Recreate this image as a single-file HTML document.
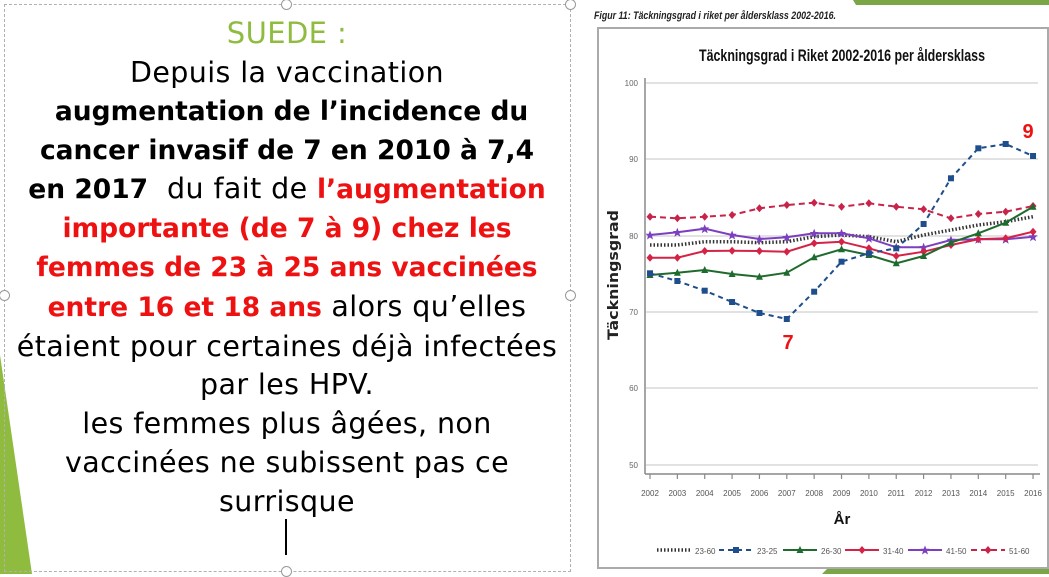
<!DOCTYPE html>
<html><head><meta charset="utf-8"><style>
html,body{margin:0;padding:0;background:#fff;}
body{width:1049px;height:574px;position:relative;overflow:hidden;font-family:"DejaVu Sans","Liberation Sans",sans-serif;}
.tb{position:absolute;left:4px;top:4px;width:565px;height:566px;border:1px dashed #b0b0b0;}
.txt{position:absolute;left:4px;top:13px;width:566px;text-align:center;font-size:28.5px;line-height:38.8px;color:#000;letter-spacing:0.4px;white-space:nowrap;}
.b{font-weight:bold;font-size:26.5px;letter-spacing:0;}
.r{color:#ee1111;font-weight:bold;font-size:26.5px;letter-spacing:0;}
.g{color:#8fbc3f;}
.h{position:absolute;width:9px;height:9px;border:1px solid #999;border-radius:50%;background:#fff;}
</style></head><body>
<svg width="1049" height="574" style="position:absolute;left:0;top:0">
<polygon points="0,355 32,574 0,574" fill="#8fbc3f"/>
<polygon points="853,0 1049,0 1049,5 856,5" fill="#7aa645"/>
<polygon points="830,566 1049,566 1049,574 822,574" fill="#7aa645"/>
</svg>
<div class="tb"></div>
<div class="h" style="left:281px;top:-1px"></div>
<div class="h" style="left:-1px;top:290px"></div>
<div class="h" style="left:565px;top:-1px"></div>
<div class="h" style="left:565px;top:290px"></div>
<div class="h" style="left:281px;top:566px"></div>
<div class="txt">
<div class="g" style="font-size:29px;line-height:41px">SUEDE :</div>
<div>Depuis la vaccination</div>
<div class="b">&nbsp;augmentation de l’incidence du</div>
<div class="b">cancer invasif de 7 en 2010 à 7,4</div>
<div><span class="b">en 2017</span>&nbsp; du fait de <span class="r">l’augmentation</span></div>
<div class="r">importante (de 7 à 9) chez les</div>
<div class="r">femmes de 23 à 25 ans vaccinées</div>
<div><span class="r">entre 16 et 18 ans</span> alors qu’elles</div>
<div>étaient pour certaines déjà infectées</div>
<div>par les HPV.</div>
<div>les femmes plus âgées, non</div>
<div>vaccinées ne subissent pas ce</div>
<div>surrisque</div>
</div>
<div style="position:absolute;left:285px;top:519px;width:2px;height:36px;background:#000"></div>

<svg width="1049" height="574" style="position:absolute;left:0;top:0" font-family="Liberation Sans, sans-serif">
<text x="594" y="19" font-size="11" font-weight="bold" font-style="italic" fill="#222" textLength="242" lengthAdjust="spacingAndGlyphs">Figur 11: Täckningsgrad i riket per åldersklass 2002-2016.</text>
<rect x="598" y="28" width="450" height="540" fill="#fff" stroke="#aaa" stroke-width="2"/>
<text x="842" y="61" font-size="17" font-weight="bold" text-anchor="middle" fill="#111" textLength="286" lengthAdjust="spacingAndGlyphs">Täckningsgrad i Riket 2002-2016 per åldersklass</text>
<g stroke="#e2e2e2" stroke-width="2">
<line x1="646" x2="1038" y1="83" y2="83"/><line x1="646" x2="1038" y1="159" y2="159"/><line x1="646" x2="1038" y1="236" y2="236"/><line x1="646" x2="1038" y1="312" y2="312"/><line x1="646" x2="1038" y1="388" y2="388"/><line x1="646" x2="1038" y1="465" y2="465"/>
</g>
<g stroke="#888" stroke-width="1.5"><line x1="645" y1="78" x2="645" y2="474"/><line x1="645" y1="474" x2="1040" y2="474"/></g>
<g font-size="8" fill="#666" text-anchor="end">
<text x="638" y="86">100</text><text x="638" y="162">90</text><text x="638" y="239">80</text><text x="638" y="315">70</text><text x="638" y="391">60</text><text x="638" y="468">50</text>
</g>
<g font-size="8" fill="#555" text-anchor="middle" id="xl"></g>
<text x="618" y="275" font-size="14" font-weight="bold" fill="#222" text-anchor="middle" transform="rotate(-90 618 275)" font-family="DejaVu Sans, sans-serif" textLength="130" lengthAdjust="spacingAndGlyphs">Täckningsgrad</text>
<text x="842" y="524" font-size="15" font-weight="bold" fill="#111" text-anchor="middle">År</text>
<g id="series"></g>
<g id="leg" font-size="8" fill="#555"></g>
<text x="1028" y="138" font-size="20" font-weight="bold" fill="#ee1111" text-anchor="middle">9</text>
<text x="788" y="349" font-size="20" font-weight="bold" fill="#ee1111" text-anchor="middle">7</text>
</svg>
<script>
var NS="http://www.w3.org/2000/svg";
function el(t,a,p){var e=document.createElementNS(NS,t);for(var k in a)e.setAttribute(k,a[k]);p.appendChild(e);return e;}
var xs=[];for(var i=0;i<15;i++)xs.push(650+i*27.36);
var xl=document.getElementById('xl');
for(var i=0;i<15;i++){var t=el('text',{x:xs[i],y:496},xl);t.textContent=2002+i;el('line',{x1:xs[i],x2:xs[i],y1:474,y2:479,stroke:'#888','stroke-width':1.2},xl);}
var S=[
{c:'#333',d:'1.5,2',w:3.5,m:null,y:[245,245,241.7,241.7,242.7,241.7,236.7,235,236.7,241.7,235,230,225,221.7,216.7],n:'23-60'},
{c:'#c8244a',d:'6,4',w:2,m:'d',y:[216.7,218.3,216.7,215,208.3,205,202.7,206.7,203.3,206.7,209.3,218.3,214,211.7,206],n:'51-60'},
{c:'#7b3fbf',d:null,w:2,m:'s',y:[235,232.3,228.7,235,239,237.3,233.3,233.3,238.3,247.3,247.3,240,239.3,239.3,236.7],n:'41-50'},
{c:'#d42346',d:null,w:2,m:'d',y:[257.7,257.7,251,250.7,251,251.7,243.3,241.7,248.3,256,251.7,245,239.3,238.3,231.7],n:'31-40'},
{c:'#1f6b2e',d:null,w:2,m:'t',y:[275,272.7,270,274,276.7,272.7,257.3,249.3,255,263.3,256,242.7,233.3,222.7,206.7],n:'26-30'},
{c:'#1f4e8c',d:'5,4',w:2,m:'q',y:[273.3,281,290.7,302,313,319,291.7,261.7,253.3,248.3,224,178.3,148.3,144,156],n:'23-25'}
];
var g=document.getElementById('series');
function mk(m,x,y,c,p){
 if(m=='d')el('polygon',{points:(x)+','+(y-4)+' '+(x+3.5)+','+y+' '+x+','+(y+4)+' '+(x-3.5)+','+y,fill:c},p);
 else if(m=='q')el('rect',{x:x-3,y:y-3,width:6,height:6,fill:c},p);
 else if(m=='t')el('polygon',{points:(x)+','+(y-4)+' '+(x+3.5)+','+(y+3)+' '+(x-3.5)+','+(y+3),fill:c},p);
 else if(m=='s')el('polygon',{points:(x)+','+(y-4.5)+' '+(x+1.3)+','+(y-1.3)+' '+(x+4.5)+','+(y-1.3)+' '+(x+2)+','+(y+1)+' '+(x+3)+','+(y+4.5)+' '+x+','+(y+2.5)+' '+(x-3)+','+(y+4.5)+' '+(x-2)+','+(y+1)+' '+(x-4.5)+','+(y-1.3)+' '+(x-1.3)+','+(y-1.3),fill:c},p);
}
S.forEach(function(s){
 var pts=s.y.map(function(y,i){return xs[i]+','+y;}).join(' ');
 var a={points:pts,fill:'none',stroke:s.c,'stroke-width':s.w};if(s.d)a['stroke-dasharray']=s.d;
 el('polyline',a,g);
 if(s.m)s.y.forEach(function(y,i){mk(s.m,xs[i],y,s.c,g);});
});
var L=document.getElementById('leg');
var order=['23-60','23-25','26-30','31-40','41-50','51-60'];
var lx=[657,719,783,845,908,971];
order.forEach(function(n,i){
 var s=S.filter(function(q){return q.n==n;})[0];
 var a={x1:lx[i],x2:lx[i]+34,y1:550,y2:550,stroke:s.c,'stroke-width':s.w};if(s.d)a['stroke-dasharray']=s.d;
 el('line',a,L);
 if(s.m)mk(s.m,lx[i]+17,550,s.c,L);
 var t=el('text',{x:lx[i]+38,y:554},L);t.textContent=n;
});
</script>
</body></html>
